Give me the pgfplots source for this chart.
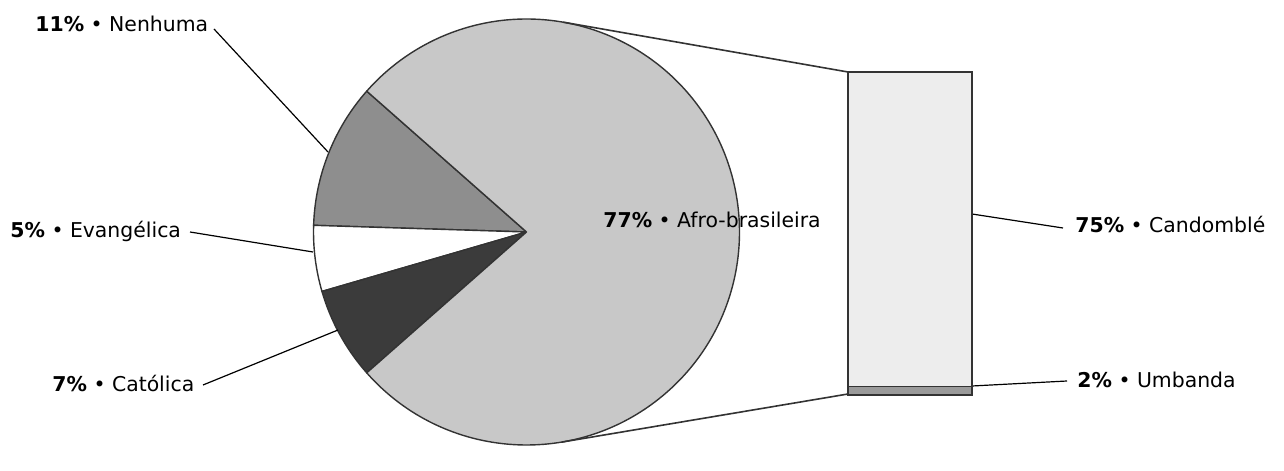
\documentclass[border=0pt]{standalone}
\usepackage{pgfplots}
\pgfplotsset{compat=1.18}
\usepackage{fontspec}
\setmainfont{DejaVu Sans}
\definecolor{afro}{HTML}{C8C8C8}
\definecolor{nenhuma}{HTML}{8E8E8E}
\definecolor{evang}{HTML}{FFFFFF}
\definecolor{catol}{HTML}{3B3B3B}
\definecolor{candom}{HTML}{EDEDED}
\definecolor{umband}{HTML}{9A9A9A}
\definecolor{edge}{HTML}{333333}
\begin{document}
\begin{tikzpicture}
% pie shares (percent)
\def\pAfro{77}\def\pNen{11}\def\pEva{5}\def\pCat{7}
\pgfmathsetmacro\aS{\pAfro*1.8}
\pgfmathsetmacro\aN{\aS+\pNen*3.6}
\pgfmathsetmacro\aE{\aN+\pEva*3.6}
\pgfmathsetmacro\aC{\aE+\pCat*3.6}
\pgfmathsetmacro\aEnd{\aS+360}
\def\R{106.5pt}
\begin{axis}[
  at={(0,0)}, anchor=south west,
  width=642pt, height=223pt, scale only axis,
  xmin=0, xmax=1284, ymin=0, ymax=446,
  hide axis, clip=false,
]
\path (axis cs:0,0) rectangle (axis cs:1284,446);
% wedges
\filldraw[fill=nenhuma, draw=edge, line width=0.7pt, line join=round]
  (axis cs:526.5,214) -- ++(\aS:\R) arc[start angle=\aS, end angle=\aN, radius=\R] -- cycle;
\filldraw[fill=evang, draw=edge, line width=0.7pt, line join=round]
  (axis cs:526.5,214) -- ++(\aN:\R) arc[start angle=\aN, end angle=\aE, radius=\R] -- cycle;
\filldraw[fill=catol, draw=edge, line width=0.7pt, line join=round]
  (axis cs:526.5,214) -- ++(\aE:\R) arc[start angle=\aE, end angle=\aC, radius=\R] -- cycle;
\filldraw[fill=afro, draw=edge, line width=0.7pt, line join=round]
  (axis cs:526.5,214) -- ++(\aC:\R) arc[start angle=\aC, end angle=\aEnd, radius=\R] -- cycle;
% connectors pie -> bar
\draw[edge, line width=0.8pt] (axis cs:563.3,423.8) -- (axis cs:848,374);
\draw[edge, line width=0.8pt] (axis cs:561.8,3.9) -- (axis cs:848,52);
% leader lines
\draw[black, line width=0.6pt] (axis cs:214,417) -- (axis cs:328,294);
\draw[black, line width=0.6pt] (axis cs:190,214) -- (axis cs:313,194);
\draw[black, line width=0.6pt] (axis cs:203,61) -- (axis cs:338,116);
\draw[black, line width=0.6pt] (axis cs:972,232) -- (axis cs:1063,218);
\draw[black, line width=0.6pt] (axis cs:972,60) -- (axis cs:1067,65);
% labels
\tikzset{lab/.style={anchor=base west, inner sep=0pt, font=\fontsize{10.2}{12}\selectfont}}
\node[lab] at (axis cs:35,414) {\textbf{11\%} • Nenhuma};
\node[lab] at (axis cs:10,208) {\textbf{5\%} • Evangélica};
\node[lab] at (axis cs:52,54) {\textbf{7\%} • Católica};
\node[lab] at (axis cs:603,218) {\textbf{77\%} • Afro-brasileira};
\node[lab] at (axis cs:1075,213) {\textbf{75\%} • Candomblé};
\node[lab] at (axis cs:1077,58) {\textbf{2\%} • Umbanda};
\end{axis}
% bar of the Afro-brasileira share
\begin{axis}[
  at={(424pt,25.5pt)}, anchor=south west,
  width=62pt, height=161.5pt, scale only axis,
  xmin=0, xmax=1, ymin=0, ymax=77,
  hide axis, clip=false,
  ybar stacked, bar width=1, bar shift=0pt,
]
\addplot[fill=umband, draw=edge, line width=0.8pt] coordinates {(0.5,2)};
\addplot[fill=candom, draw=edge, line width=0.8pt] coordinates {(0.5,75)};
\end{axis}
\end{tikzpicture}
\end{document}
